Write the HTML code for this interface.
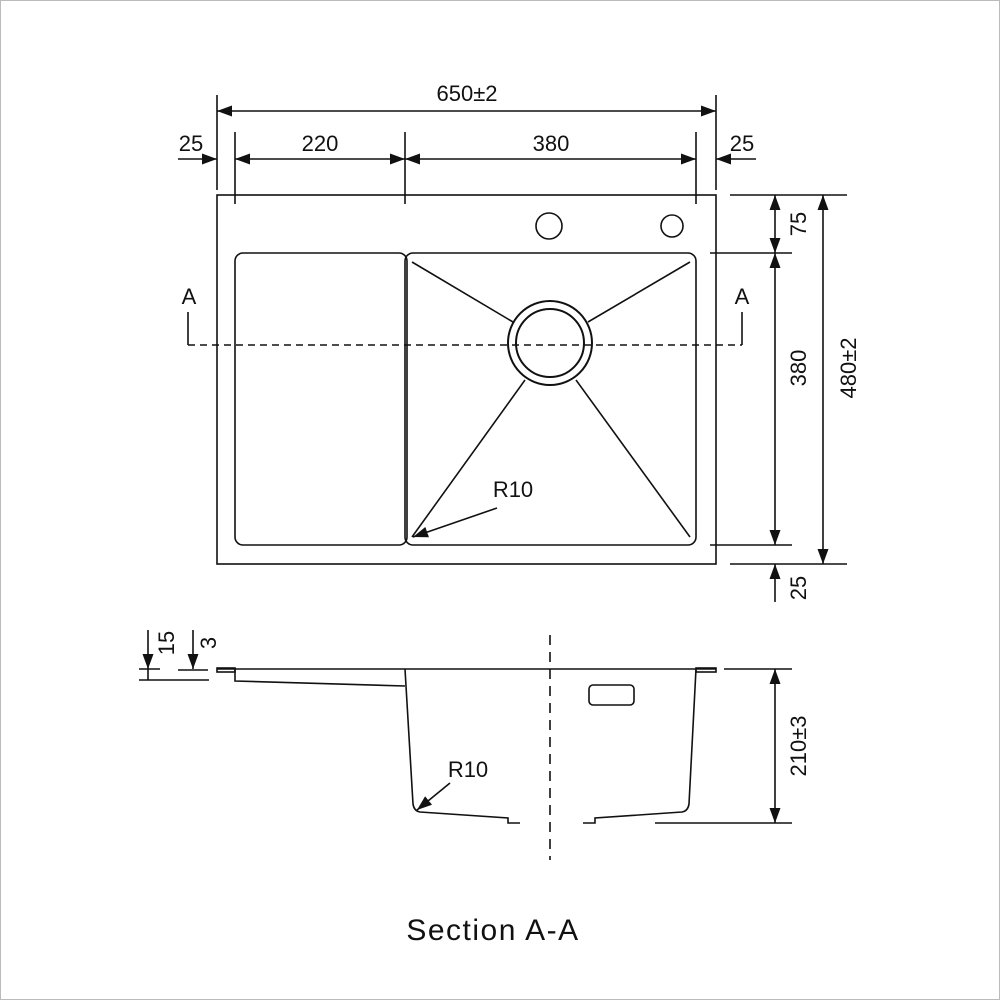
<!DOCTYPE html>
<html><head><meta charset="utf-8"><style>
html,body{margin:0;padding:0;background:#fff}
svg{display:block}
text{font-family:"Liberation Sans",sans-serif;fill:#111}
</style></head><body>
<svg width="1000" height="1000" viewBox="0 0 1000 1000" xmlns="http://www.w3.org/2000/svg">
<defs>
<marker id="a" viewBox="0 0 15 11" refX="15" refY="5.5" markerWidth="15" markerHeight="11" markerUnits="userSpaceOnUse" orient="auto-start-reverse">
<path d="M0,0 L15,5.5 L0,11 Z" fill="#111"/>
</marker>
</defs>
<rect x="0.5" y="0.5" width="999" height="999" fill="none" stroke="#bbb"/>
<g stroke="#111" stroke-width="1.6" fill="none">
<rect x="217" y="195" width="499" height="369"/>
<rect x="235" y="253" width="172" height="292" rx="8"/>
<rect x="405" y="253" width="291" height="292" rx="8"/>
<circle cx="549" cy="226" r="13"/>
<circle cx="672" cy="226" r="11"/>
<circle cx="550" cy="343" r="42" stroke-width="2"/>
<circle cx="550" cy="343" r="34" stroke-width="2"/>
<line x1="412" y1="262" x2="513" y2="322"/>
<line x1="690" y1="262" x2="588" y2="322"/>
<line x1="525" y1="380" x2="412" y2="537"/>
<line x1="576" y1="380" x2="690" y2="537"/>
<line x1="188" y1="345" x2="742" y2="345" stroke-dasharray="7,5"/>
<line x1="188" y1="312" x2="188" y2="345"/>
<line x1="742" y1="312" x2="742" y2="345"/>
<line x1="497" y1="508" x2="413" y2="537" marker-end="url(#a)"/>
<line x1="217" y1="95" x2="217" y2="190"/>
<line x1="716" y1="95" x2="716" y2="190"/>
<line x1="235" y1="132" x2="235" y2="204"/>
<line x1="405" y1="132" x2="405" y2="204"/>
<line x1="696" y1="132" x2="696" y2="204"/>
<line x1="217" y1="111" x2="716" y2="111" marker-start="url(#a)" marker-end="url(#a)"/>
<line x1="235" y1="159" x2="405" y2="159" marker-start="url(#a)" marker-end="url(#a)"/>
<line x1="405" y1="159" x2="696" y2="159" marker-start="url(#a)" marker-end="url(#a)"/>
<line x1="178" y1="159" x2="217" y2="159" marker-end="url(#a)"/>
<line x1="756" y1="159" x2="716" y2="159" marker-end="url(#a)"/>
<line x1="730" y1="195" x2="847" y2="195"/>
<line x1="710" y1="253" x2="792" y2="253"/>
<line x1="710" y1="545" x2="792" y2="545"/>
<line x1="730" y1="564" x2="847" y2="564"/>
<line x1="775" y1="195" x2="775" y2="253" marker-start="url(#a)" marker-end="url(#a)"/>
<line x1="775" y1="253" x2="775" y2="545" marker-start="url(#a)" marker-end="url(#a)"/>
<line x1="775" y1="602" x2="775" y2="564" marker-end="url(#a)"/>
<line x1="823" y1="195" x2="823" y2="564" marker-start="url(#a)" marker-end="url(#a)"/>
<line x1="217" y1="669" x2="716" y2="669"/>
<rect x="217" y="668" width="18" height="4" />
<rect x="696" y="668" width="20" height="4" />
<path d="M235,669 L235,681 L405,686"/>
<path d="M405,669 L413,804 Q414,811 420,812 L508,818 L508,823 L520,823"/>
<path d="M583,823 L595,823 L595,818 L682,812 Q688,811 689,804 L696,669"/>
<line x1="655" y1="823" x2="792" y2="823"/>
<line x1="724" y1="669" x2="792" y2="669"/>
<line x1="550" y1="635" x2="550" y2="860" stroke-dasharray="10,7"/>
<rect x="589" y="685" width="45" height="20" rx="4"/>
<line x1="775" y1="669" x2="775" y2="823" marker-start="url(#a)" marker-end="url(#a)"/>
<line x1="450" y1="783" x2="417" y2="810" marker-end="url(#a)"/>
<line x1="148" y1="630" x2="148" y2="669" marker-end="url(#a)"/>
<line x1="193" y1="630" x2="193" y2="669" marker-end="url(#a)"/>
<line x1="139" y1="669" x2="160" y2="669"/>
<line x1="178" y1="670" x2="208" y2="670"/>
<line x1="139" y1="680" x2="209" y2="680"/>
<line x1="148" y1="669" x2="148" y2="680"/>
</g>
<g font-size="22">
<text x="467" y="101" text-anchor="middle">650±2</text>
<text x="320" y="151" text-anchor="middle">220</text>
<text x="551" y="151" text-anchor="middle">380</text>
<text x="191" y="151" text-anchor="middle">25</text>
<text x="742" y="151" text-anchor="middle">25</text>
<text x="189" y="304" text-anchor="middle">A</text>
<text x="742" y="304" text-anchor="middle">A</text>
<text x="513" y="497" text-anchor="middle">R10</text>
<text x="468" y="777" text-anchor="middle">R10</text>
<text transform="translate(806,224) rotate(-90)" text-anchor="middle">75</text>
<text transform="translate(806,368) rotate(-90)" text-anchor="middle">380</text>
<text transform="translate(806,588) rotate(-90)" text-anchor="middle">25</text>
<text transform="translate(856,368) rotate(-90)" text-anchor="middle">480±2</text>
<text transform="translate(806,746) rotate(-90)" text-anchor="middle">210±3</text>
<text transform="translate(174,643) rotate(-90)" text-anchor="middle">15</text>
<text transform="translate(216,643) rotate(-90)" text-anchor="middle">3</text>
</g>
<text x="493" y="940" font-size="30" letter-spacing="1.5" text-anchor="middle">Section A-A</text>
</svg>
</body></html>
